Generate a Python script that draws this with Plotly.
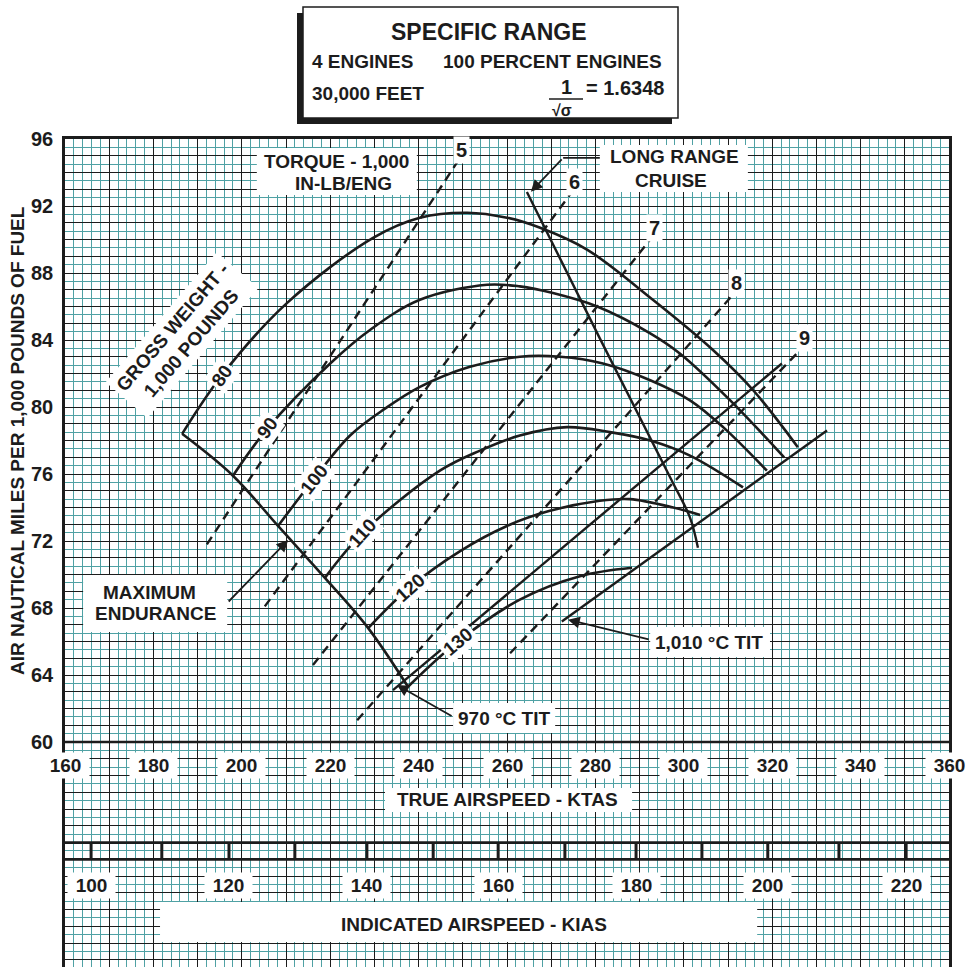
import plotly.graph_objects as go

FONT = "Liberation Sans, Arial, Helvetica, sans-serif"
INK = "#1c1c1c"
TEAL = "#4fa1a4"

# ---------------- chart data ----------------
# Gross weight curves (1,000 lb): true airspeed (KTAS) vs air nautical miles per 1,000 lb fuel
gross_weights = [80, 90, 100, 110, 120, 130]

ktas_80 = [186.5, 195.5, 210.2, 229.7, 240.3, 251.0, 260.0, 267.5, 278.1, 293.0, 306.6, 315.7, 325.8]
sr_80 = [78.4, 81.9, 86.2, 90.1, 91.3, 91.6, 91.3, 90.7, 89.4, 86.4, 83.4, 81.0, 77.6]

ktas_90 = [198.0, 205.9, 220.0, 229.0, 240.3, 255.5, 262.9, 270.4, 280.4, 292.4, 299.1, 310.5, 322.7]
sr_90 = [75.9, 78.75, 82.6, 84.6, 86.4, 87.3, 87.2, 86.8, 86.0, 84.4, 83.2, 80.4, 77.0]

ktas_100 = [208.2, 216.3, 224.5, 232.4, 240.3, 251.6, 262.9, 272.0, 281.7, 292.4, 301.4, 308.9, 318.8]
sr_100 = [72.9, 75.7, 78.3, 79.9, 81.2, 82.4, 83.0, 83.0, 82.6, 81.6, 80.4, 78.8, 76.2]

ktas_110 = [218.8, 227.4, 244.8, 253.9, 262.9, 273.6, 283.3, 292.4, 301.4, 313.4]
sr_110 = [69.8, 72.5, 76.2, 77.4, 78.3, 78.8, 78.5, 78.0, 77.1, 75.2]

ktas_120 = [228.6, 238.1, 249.4, 260.0, 269.7, 281.0, 287.8, 297.6, 303.7]
sr_120 = [66.8, 69.25, 71.4, 72.9, 73.8, 74.4, 74.5, 74.0, 73.55]

ktas_130 = [237.6, 248.9, 262.9, 276.5, 288.3]
sr_130 = [63.3, 66.0, 68.5, 69.9, 70.4]

# where each weight label sits on its curve, and its slant
gw_label_ktas = [195.5, 205.9, 216.3, 227.4, 238.1, 248.9]
gw_label_sr = [81.9, 78.75, 75.7, 72.5, 69.25, 66.0]
gw_label_angle = [-55, -54, -52, -48, -42, -40]

# Long range cruise locus
lrc_ktas = [264.5, 281.0, 297.3, 301.4, 303.2]
lrc_sr = [92.84, 84.1, 75.6, 73.4, 71.6]

# Turbine inlet temperature limit lines
tit970_ktas = [234.2, 322.2]
tit970_sr = [63.1, 82.6]
tit1010_ktas = [272.4, 332.4]
tit1010_sr = [67.2, 78.6]

# Torque lines (1,000 in-lb per engine): lower and upper ends
torque_values = [5, 6, 7, 8, 9]
torque_ktas_low = [192.1, 205.2, 216.1, 226.1, 260.7]
torque_sr_low = [71.8, 68.1, 64.6, 61.3, 65.3]
torque_ktas_high = [248.7, 274.3, 292.4, 311.1, 326.3]
torque_sr_high = [94.6, 92.7, 90.0, 86.7, 83.4]

# Indicated airspeed scale: KIAS and the matching KTAS position
kias_values = [100, 110, 120, 130, 140, 150, 160, 170, 180, 190, 200, 210, 220]
kias_as_ktas = [165.9, 181.9, 197.1, 212.0, 228.3, 243.3, 258.0, 273.1, 289.2, 304.1, 319.0, 335.1, 350.3]

ktas_ticks = list(range(160, 361, 20))
sr_ticks = list(range(60, 97, 4))

curves = [(ktas_80, sr_80), (ktas_90, sr_90), (ktas_100, sr_100),
          (ktas_110, sr_110), (ktas_120, sr_120), (ktas_130, sr_130)]

# ---------------- figure geometry ----------------
W, H = 970, 967
ML, MR, MT, MB = 65, 21, 139, 0
Y_MIN, Y_MAX = 46.57, 96
X_MIN, X_MAX = 160, 360
PW, PH = W - ML - MR, H - MT - MB


def paper_x(px):
    return (px - ML) / PW


def paper_y(py):
    return (H - MB - py) / PH


fig = go.Figure()


def add_line(x, y, width=2.6, dash=None, shape="linear"):
    line = dict(color=INK, width=width, shape=shape)
    if dash:
        line["dash"] = dash
    if shape == "spline":
        line["smoothing"] = 1.0
    fig.add_trace(go.Scatter(x=x, y=y, mode="lines", line=line,
                             hoverinfo="skip", showlegend=False))


def font(size=19):
    return dict(family=FONT, size=size, color=INK, weight="bold")


def text(x, y, s, size=19, angle=0, bg="white", **kw):
    fig.add_annotation(x=x, y=y, text=s, showarrow=False, textangle=angle,
                       bgcolor=bg, font=font(size), xanchor="center",
                       yanchor="middle", **kw)


def white_box(x0, x1, y0, y1):
    fig.add_shape(type="rect", xref="x", yref="y", x0=x0, x1=x1, y0=y0, y1=y1,
                  fillcolor="white", line_width=0, layer="between")


def arrow(tail, tip):
    fig.add_annotation(x=tip[0], y=tip[1], ax=tail[0], ay=tail[1],
                       xref="x", yref="y", axref="x", ayref="y", text="",
                       showarrow=True, arrowhead=2, arrowsize=1.3,
                       arrowwidth=1.8, arrowcolor=INK, standoff=0)


# torque lines (dashed)
for k0, s0, k1, s1 in zip(torque_ktas_low, torque_sr_low, torque_ktas_high, torque_sr_high):
    add_line([k0, k1], [s0, s1], width=2.4, dash="9px,6px")

# gross weight curves
for k, s in curves:
    add_line(k, s, width=2.6, shape="spline")

# maximum endurance: joins the low-speed ends of the weight curves
add_line([c[0][0] for c in curves], [c[1][0] for c in curves], width=2.6, shape="spline")

# long range cruise
add_line(lrc_ktas, lrc_sr, width=2.4, shape="spline")

# TIT limits
add_line(tit970_ktas, tit970_sr, width=2.4)
add_line(tit1010_ktas, tit1010_sr, width=2.4)

# heavy baseline at 60 and the KIAS band
add_line([X_MIN, X_MAX], [60, 60], width=2.6)
add_line([X_MIN, X_MAX], [54, 54], width=2.8)
add_line([X_MIN, X_MAX], [53, 53], width=2.8)
tx, ty = [], []
for k in kias_as_ktas:
    tx += [k, k, None]
    ty += [53, 54, None]
fig.add_trace(go.Scatter(x=tx, y=ty, mode="lines", line=dict(color=INK, width=3),
                         hoverinfo="skip", showlegend=False))

# ---------------- labels ----------------
for gw, k, s, a in zip(gross_weights, gw_label_ktas, gw_label_sr, gw_label_angle):
    text(k, s, str(gw), size=19, angle=a, borderpad=2)

for t, k, s in zip(torque_values, torque_ktas_high, torque_sr_high):
    text(k, s, str(t), size=20, borderpad=2, xshift=4, yshift=12)

# torque caption
white_box(203.4, 239.6, 92.66, 95.46)
text(221.5, 94.63, "TORQUE - 1,000", bg=None)
text(223.0, 93.37, "IN-LB/ENG", bg=None)

# long range cruise caption + leader
white_box(281.0, 314.5, 92.84, 95.64)
text(297.8, 94.93, "LONG RANGE", bg=None)
text(297.1, 93.55, "CRUISE", bg=None)
add_line([281.0, 272.7], [94.87, 94.87], width=1.8)
arrow((272.7, 94.87), (265.4, 92.85))

# gross weight caption
text(186.5, 84.3, "GROSS WEIGHT -<br>1,000 POUNDS", size=19, angle=-49.5, borderpad=4)

# maximum endurance caption
white_box(164.1, 196.7, 66.57, 69.97)
text(179.2, 68.9, "MAXIMUM", bg=None)
text(180.4, 67.7, "ENDURANCE", bg=None)
arrow((196.7, 68.3), (210.5, 72.06))

# TIT captions
white_box(247.8, 270.9, 60.54, 62.33)
text(259.3, 61.43, "970 °C TIT", bg=None)
arrow((247.8, 61.5), (235.1, 63.4))

white_box(292.4, 319.5, 65.07, 66.87)
text(305.7, 65.97, "1,010 °C TIT", bg=None)
arrow((292.4, 66.1), (273.8, 67.3))

# true airspeed scale labels
for v in ktas_ticks:
    text(v, 58.57, str(v), size=19, width=47, height=25, borderpad=0)
white_box(232.4, 288.3, 55.82, 57.25)
text(260.2, 56.54, "TRUE AIRSPEED - KTAS", bg=None)

# indicated airspeed scale labels
for v, k in zip(kias_values, kias_as_ktas):
    if v % 20 == 0:
        text(k, 51.46, str(v), size=19, width=47, height=25, borderpad=0)
white_box(181.5, 316.6, 48.06, 50.45)
text(252.5, 49.13, "INDICATED AIRSPEED - KIAS", bg=None)

# vertical axis title
fig.add_annotation(xref="paper", yref="paper", x=paper_x(18), y=paper_y(441),
                   xanchor="center", yanchor="middle",
                   text="AIR NAUTICAL MILES PER 1,000 POUNDS OF FUEL",
                   textangle=-90, showarrow=False, font=font(19))

# ---------------- title block ----------------
fig.add_shape(type="rect", xref="paper", yref="paper",
              x0=paper_x(297), x1=paper_x(672), y0=paper_y(124), y1=paper_y(13),
              fillcolor=INK, line_width=0)
fig.add_shape(type="rect", xref="paper", yref="paper",
              x0=paper_x(303), x1=paper_x(678), y0=paper_y(118), y1=paper_y(7),
              fillcolor="white", line=dict(color=INK, width=1.5))
fig.add_shape(type="line", xref="paper", yref="paper",
              x0=paper_x(549), x1=paper_x(583), y0=paper_y(99), y1=paper_y(99),
              line=dict(color=INK, width=1.6))


def title_text(px, py, s, size, anchor="center"):
    fig.add_annotation(xref="paper", yref="paper", x=paper_x(px), y=paper_y(py),
                       text=s, showarrow=False, xanchor=anchor, yanchor="middle",
                       font=font(size))


title_text(489, 32, "SPECIFIC RANGE", 23)
title_text(310, 61, "4 ENGINES", 19, "left")
title_text(441, 61, "100 PERCENT ENGINES", 19, "left")
title_text(310, 94, "30,000 FEET", 19, "left")
title_text(566, 87, "1", 20)
title_text(562, 110, "√σ", 16)
title_text(584, 88, "= 1.6348", 20, "left")

# ---------------- axes / grid ----------------
fig.update_layout(
    template="none",
    width=W, height=H,
    margin=dict(l=ML, r=MR, t=MT, b=MB, autoexpand=False),
    paper_bgcolor="white", plot_bgcolor="white",
    showlegend=False, hovermode=False,
    xaxis=dict(
        range=[X_MIN, X_MAX], autorange=False, automargin=False,
        tickvals=list(range(X_MIN, X_MAX + 1, 10)), showticklabels=False, ticks="",
        showgrid=True, gridcolor=INK, gridwidth=1.4, zeroline=False,
        minor=dict(tick0=X_MIN, dtick=2, showgrid=True, gridcolor=TEAL, gridwidth=1.2, ticks=""),
        showline=True, linecolor=INK, linewidth=2.6, mirror=True,
    ),
    yaxis=dict(
        range=[Y_MIN, Y_MAX], autorange=False, automargin=False,
        tickvals=list(range(47, 97)),
        ticktext=[str(v) if v in sr_ticks else "" for v in range(47, 97)],
        ticks="outside", ticklen=5, tickcolor="rgba(0,0,0,0)",
        tickfont=font(20),
        showgrid=True, gridcolor=INK, gridwidth=1.4, zeroline=False,
        minor=dict(tick0=0, dtick=0.5, showgrid=True, gridcolor=TEAL, gridwidth=1.2, ticks=""),
        showline=True, linecolor=INK, linewidth=2.6, mirror=True,
    ),
)

fig.write_html("out.html")
